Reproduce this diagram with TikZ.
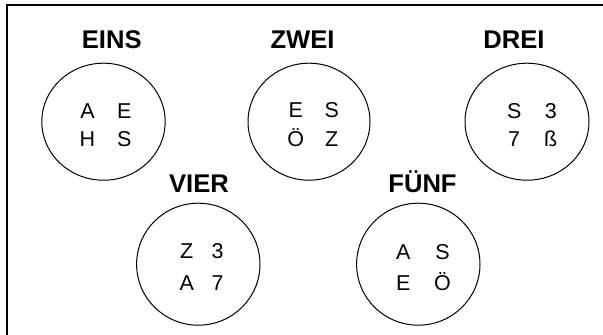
\documentclass[tikz,border=0pt]{standalone}
\usepackage{fontspec}
\setmainfont{Liberation Sans}
\begin{document}
\begin{tikzpicture}[x=1pt,y=-1pt,
  ring/.style={draw=black,line width=1pt},
  title/.style={anchor=base,inner sep=0pt,font=\fontsize{25.6}{28}\selectfont\bfseries},
  letter/.style={anchor=base,inner sep=0pt,font=\fontsize{21.5}{24}\selectfont}]
\useasboundingbox (0,0) rectangle (603,335);
% frame (left and top edges)
\coordinate (fbl) at (7,335);
\coordinate (ftl) at (7,5);
\coordinate (ftr) at (603,5);
\draw[line width=2.2pt] (fbl) -- (ftl) -- (ftr);
% circles
\draw[ring] (103.5,121.7) ellipse [x radius=61.7, y radius=58.5];
\draw[ring] (309,121.7) ellipse [x radius=61, y radius=58.5];
\draw[ring] (527,121.7) ellipse [x radius=62, y radius=58.5];
\draw[ring] (198.3,264.2) ellipse [x radius=61.7, y radius=61];
\draw[ring] (418.3,264.2) ellipse [x radius=61.7, y radius=61];
% titles
\node[title] (t1) at (111.7,48.3) {EINS};
\node[title] (t2) at (302.5,48.3) {ZWEI};
\node[title] (t3) at (514,48.3) {DREI};
\node[title] (t4) at (199,192.3) {VIER};
\node[title] (t5) at (422.5,192.3) {FÜNF};
% EINS
\node[letter] (e11) at (87.5,118.3) {A};
\node[letter] (e12) at (124.2,118.3) {E};
\node[letter] (e13) at (87.5,146.7) {H};
\node[letter] (e14) at (124.2,146.7) {S};
% ZWEI
\node[letter] (e21) at (295.8,117) {E};
\node[letter] (e22) at (331.7,117) {S};
\node[letter] (e23) at (295.8,146.7) {Ö};
\node[letter] (e24) at (331.7,146.7) {Z};
% DREI
\node[letter] (e31) at (514.2,118) {S};
\node[letter] (e32) at (550.8,118) {3};
\node[letter] (e33) at (514.2,146.7) {7};
\node[letter] (e34) at (550.8,146.7) {ß};
% VIER
\node[letter] (e41) at (186.7,258.5) {Z};
\node[letter] (e42) at (217.5,258.5) {3};
\node[letter] (e43) at (186.7,290) {A};
\node[letter] (e44) at (217.5,290) {7};
% FUENF
\node[letter] (e51) at (403.3,259.5) {A};
\node[letter] (e52) at (442.5,259.5) {S};
\node[letter] (e53) at (403.3,290) {E};
\node[letter] (e54) at (442.5,290) {Ö};
\end{tikzpicture}
\end{document}
